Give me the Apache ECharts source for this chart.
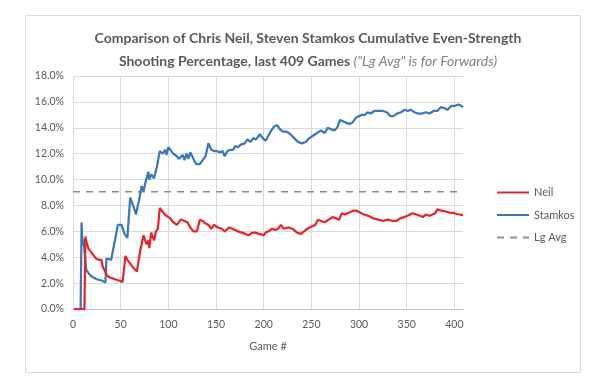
<!DOCTYPE html>
<html>
<head>
<meta charset="utf-8">
<script src="https://cdn.jsdelivr.net/npm/echarts@6/dist/echarts.min.js"></script>
<style>html,body{margin:0;padding:0;background:#fff;}#c{width:600px;height:385px;}</style>
</head>
<body>
<div id="c"></div>
<script>
const titleLine1 = 'Comparison of Chris Neil, Steven Stamkos Cumulative Even-Strength';
const titleLine2 = 'Shooting Percentage, last 409 Games ';
const titleNote = '("Lg Avg" is for Forwards)';
const xAxisName = 'Game #';
const seriesNames = ['Neil', 'Stamkos', 'Lg Avg'];

const neilGames = [1,12,13,14,16,19,22,24,27,30,31,33,35,37,40,44,48,52,54,55,57,60,63,67,68,70,72,74,77,79,80,82,85,87,89,91,95,98,102,105,109,111,113,117,120,123,126,130,133,136,139,142,145,148,152,156,159,161,164,167,170,173,177,181,184,188,191,195,200,202,205,209,212,215,218,221,223,226,230,235,239,241,244,248,251,254,257,260,264,268,272,276,279,282,285,288,291,294,297,300,305,310,315,320,325,330,335,339,343,347,351,356,360,364,367,370,374,377,380,382,386,390,395,400,405,409];
const neilPct = [0,0,5.6,5.2,4.7,4.4,4.1,3.9,3.8,3.8,3.3,3.0,2.7,2.5,2.4,2.3,2.2,2.1,2.0,4.1,3.8,3.5,3.2,2.9,2.9,4.3,4.4,5.7,5.0,5.3,4.7,5.9,5.3,6.0,6.2,7.8,7.4,7.2,7.0,6.7,6.5,6.4,6.9,6.8,6.7,6.3,6.0,6.0,6.9,6.8,6.6,6.5,6.2,6.5,6.3,6.2,6.0,5.9,6.3,6.2,6.1,6.0,5.9,5.8,5.7,5.9,5.9,5.8,5.7,5.9,6.0,6.2,6.1,6.2,6.5,6.2,6.1,6.3,6.2,5.9,5.8,5.7,6.1,6.3,6.4,6.5,6.9,6.8,6.7,6.9,7.1,7.0,6.9,7.4,7.3,7.4,7.5,7.6,7.6,7.5,7.3,7.2,7.0,6.9,6.8,6.9,6.8,6.8,7.0,7.1,7.2,7.4,7.3,7.2,7.1,7.3,7.2,7.3,7.4,7.7,7.6,7.55,7.45,7.4,7.3,7.25];

const stamkosGames = [1,8,9,10,11,12,14,17,20,25,30,34,35,37,40,42,44,45,47,51,52,54,57,60,62,64,66,68,69,72,74,76,79,80,82,85,87,88,91,94,97,98,100,102,105,109,111,113,115,117,119,121,123,125,127,129,131,133,136,139,142,145,148,151,154,157,159,162,165,168,170,173,176,180,183,186,189,192,196,199,202,205,208,211,214,217,220,224,228,232,236,240,244,248,252,256,260,264,267,270,274,277,280,283,286,290,293,297,300,303,306,309,312,316,320,325,329,333,336,340,344,348,351,354,358,362,366,370,374,378,382,386,390,393,397,401,404,407,409];
const stamkosPct = [0,0,6.7,4.9,5.4,4.5,3.0,2.7,2.5,2.3,2.2,2.05,3.9,3.9,3.8,3.7,5.3,5.2,6.5,6.5,6.4,5.8,5.5,8.6,8.2,7.8,7.3,8.0,8.3,9.5,9.1,9.8,10.6,10.0,10.4,10.1,10.2,11.0,12.2,12.0,12.3,11.9,12.5,12.4,12.0,11.8,11.6,11.5,11.9,11.5,12.0,11.6,12.1,11.8,11.5,11.2,11.3,11.2,11.5,11.8,12.8,12.3,12.2,12.2,12.1,12.2,11.8,12.2,12.3,12.3,12.6,12.5,12.7,12.8,13.1,12.9,13.2,13.1,13.5,13.2,13.0,13.4,13.8,14.1,14.2,13.9,13.7,13.7,13.5,13.2,12.9,12.8,12.9,13.2,13.4,13.6,13.8,13.6,14.0,13.9,13.8,14.0,14.6,14.5,14.4,14.3,14.4,14.8,14.9,15.0,15.0,15.2,15.1,15.3,15.3,15.3,15.2,14.9,14.9,15.1,15.2,15.4,15.3,15.4,15.2,15.1,15.1,15.2,15.1,15.3,15.3,15.6,15.5,15.4,15.7,15.7,15.8,15.7,15.6];

const lgAvgGames = [0, 409];
const lgAvgPct = [9.05, 9.05];

const yTicks = [0,2,4,6,8,10,12,14,16,18];
const xTicks = [0,50,100,150,200,250,300,350,400];

function pairs(xs, ys){ return xs.map((x,i)=>[x, ys[i]]); }

const FONT = 'Lato';
const GREY = '#595959';
const chart = echarts.init(document.getElementById('c'), null, {renderer:'canvas'});
chart.setOption({
  backgroundColor: '#fff',
  animation: false,
  graphic: [{
    type: 'rect', silent: true, z: -1,
    shape: {x: 25.5, y: 15.5, width: 555, height: 357},
    style: {fill: 'none', stroke: '#d9d9d9', lineWidth: 1}
  }],
  title: {
    text: '{b|' + titleLine1 + '}\n{b|' + titleLine2 + '}{i|' + titleNote + '}',
    left: 303, top: 22, textAlign: 'center',
    textStyle: {
      rich: {
        b: {fontFamily: FONT, fontWeight: 'bold', fontSize: 14, color: GREY, lineHeight: 23},
        i: {fontFamily: FONT, fontStyle: 'italic', fontWeight: 'normal', fontSize: 14, color: '#7f7f7f', lineHeight: 23}
      }
    }
  },
  legend: {
    orient: 'vertical', left: 491, top: 182,
    itemWidth: 32, itemHeight: 10, itemGap: 11.5,
    data: seriesNames,
    itemStyle: {opacity: 0},
    textStyle: {fontFamily: FONT, fontSize: 11, color: GREY}
  },
  grid: {left: 73, right: 137, top: 76, bottom: 76, containLabel: false},
  xAxis: {
    type: 'value', min: xTicks[0], max: 409, interval: 50,
    name: xAxisName, nameLocation: 'middle', nameGap: 32,
    nameTextStyle: {fontFamily: FONT, fontSize: 11, color: GREY},
    axisLine: {show: true, lineStyle: {color: '#bfbfbf', width: 1}},
    axisTick: {show: false},
    axisLabel: {fontFamily: FONT, fontSize: 10.5, color: GREY, margin: 10, showMaxLabel: false,
      formatter: v => (xTicks.indexOf(v) >= 0 ? String(v) : '')},
    splitLine: {show: true, showMaxLine: false, lineStyle: {color: '#d9d9d9', width: 1}}
  },
  yAxis: {
    type: 'value', min: yTicks[0], max: yTicks[yTicks.length-1], interval: 2,
    axisLine: {show: false}, axisTick: {show: false},
    axisLabel: {fontFamily: FONT, fontSize: 10.5, color: GREY, margin: 9, formatter: v => v.toFixed(1) + '%'},
    splitLine: {show: true, lineStyle: {color: '#d9d9d9', width: 1}}
  },
  series: [
    {name: seriesNames[0], type: 'line', data: pairs(neilGames, neilPct), symbol: 'none', z: 4,
     lineStyle: {color: '#e3262b', width: 2.25}, itemStyle: {color: '#e3262b'}},
    {name: seriesNames[1], type: 'line', data: pairs(stamkosGames, stamkosPct), symbol: 'none', z: 3,
     lineStyle: {color: '#3d78b6', width: 2.25}, itemStyle: {color: '#3d78b6'}},
    {name: seriesNames[2], type: 'line', data: pairs(lgAvgGames, lgAvgPct), symbol: 'none', z: 2,
     lineStyle: {color: '#8c8c8c', width: 1.5, type: [7, 6]}, itemStyle: {color: '#8c8c8c'}}
  ]
});
</script>
</body>
</html>
